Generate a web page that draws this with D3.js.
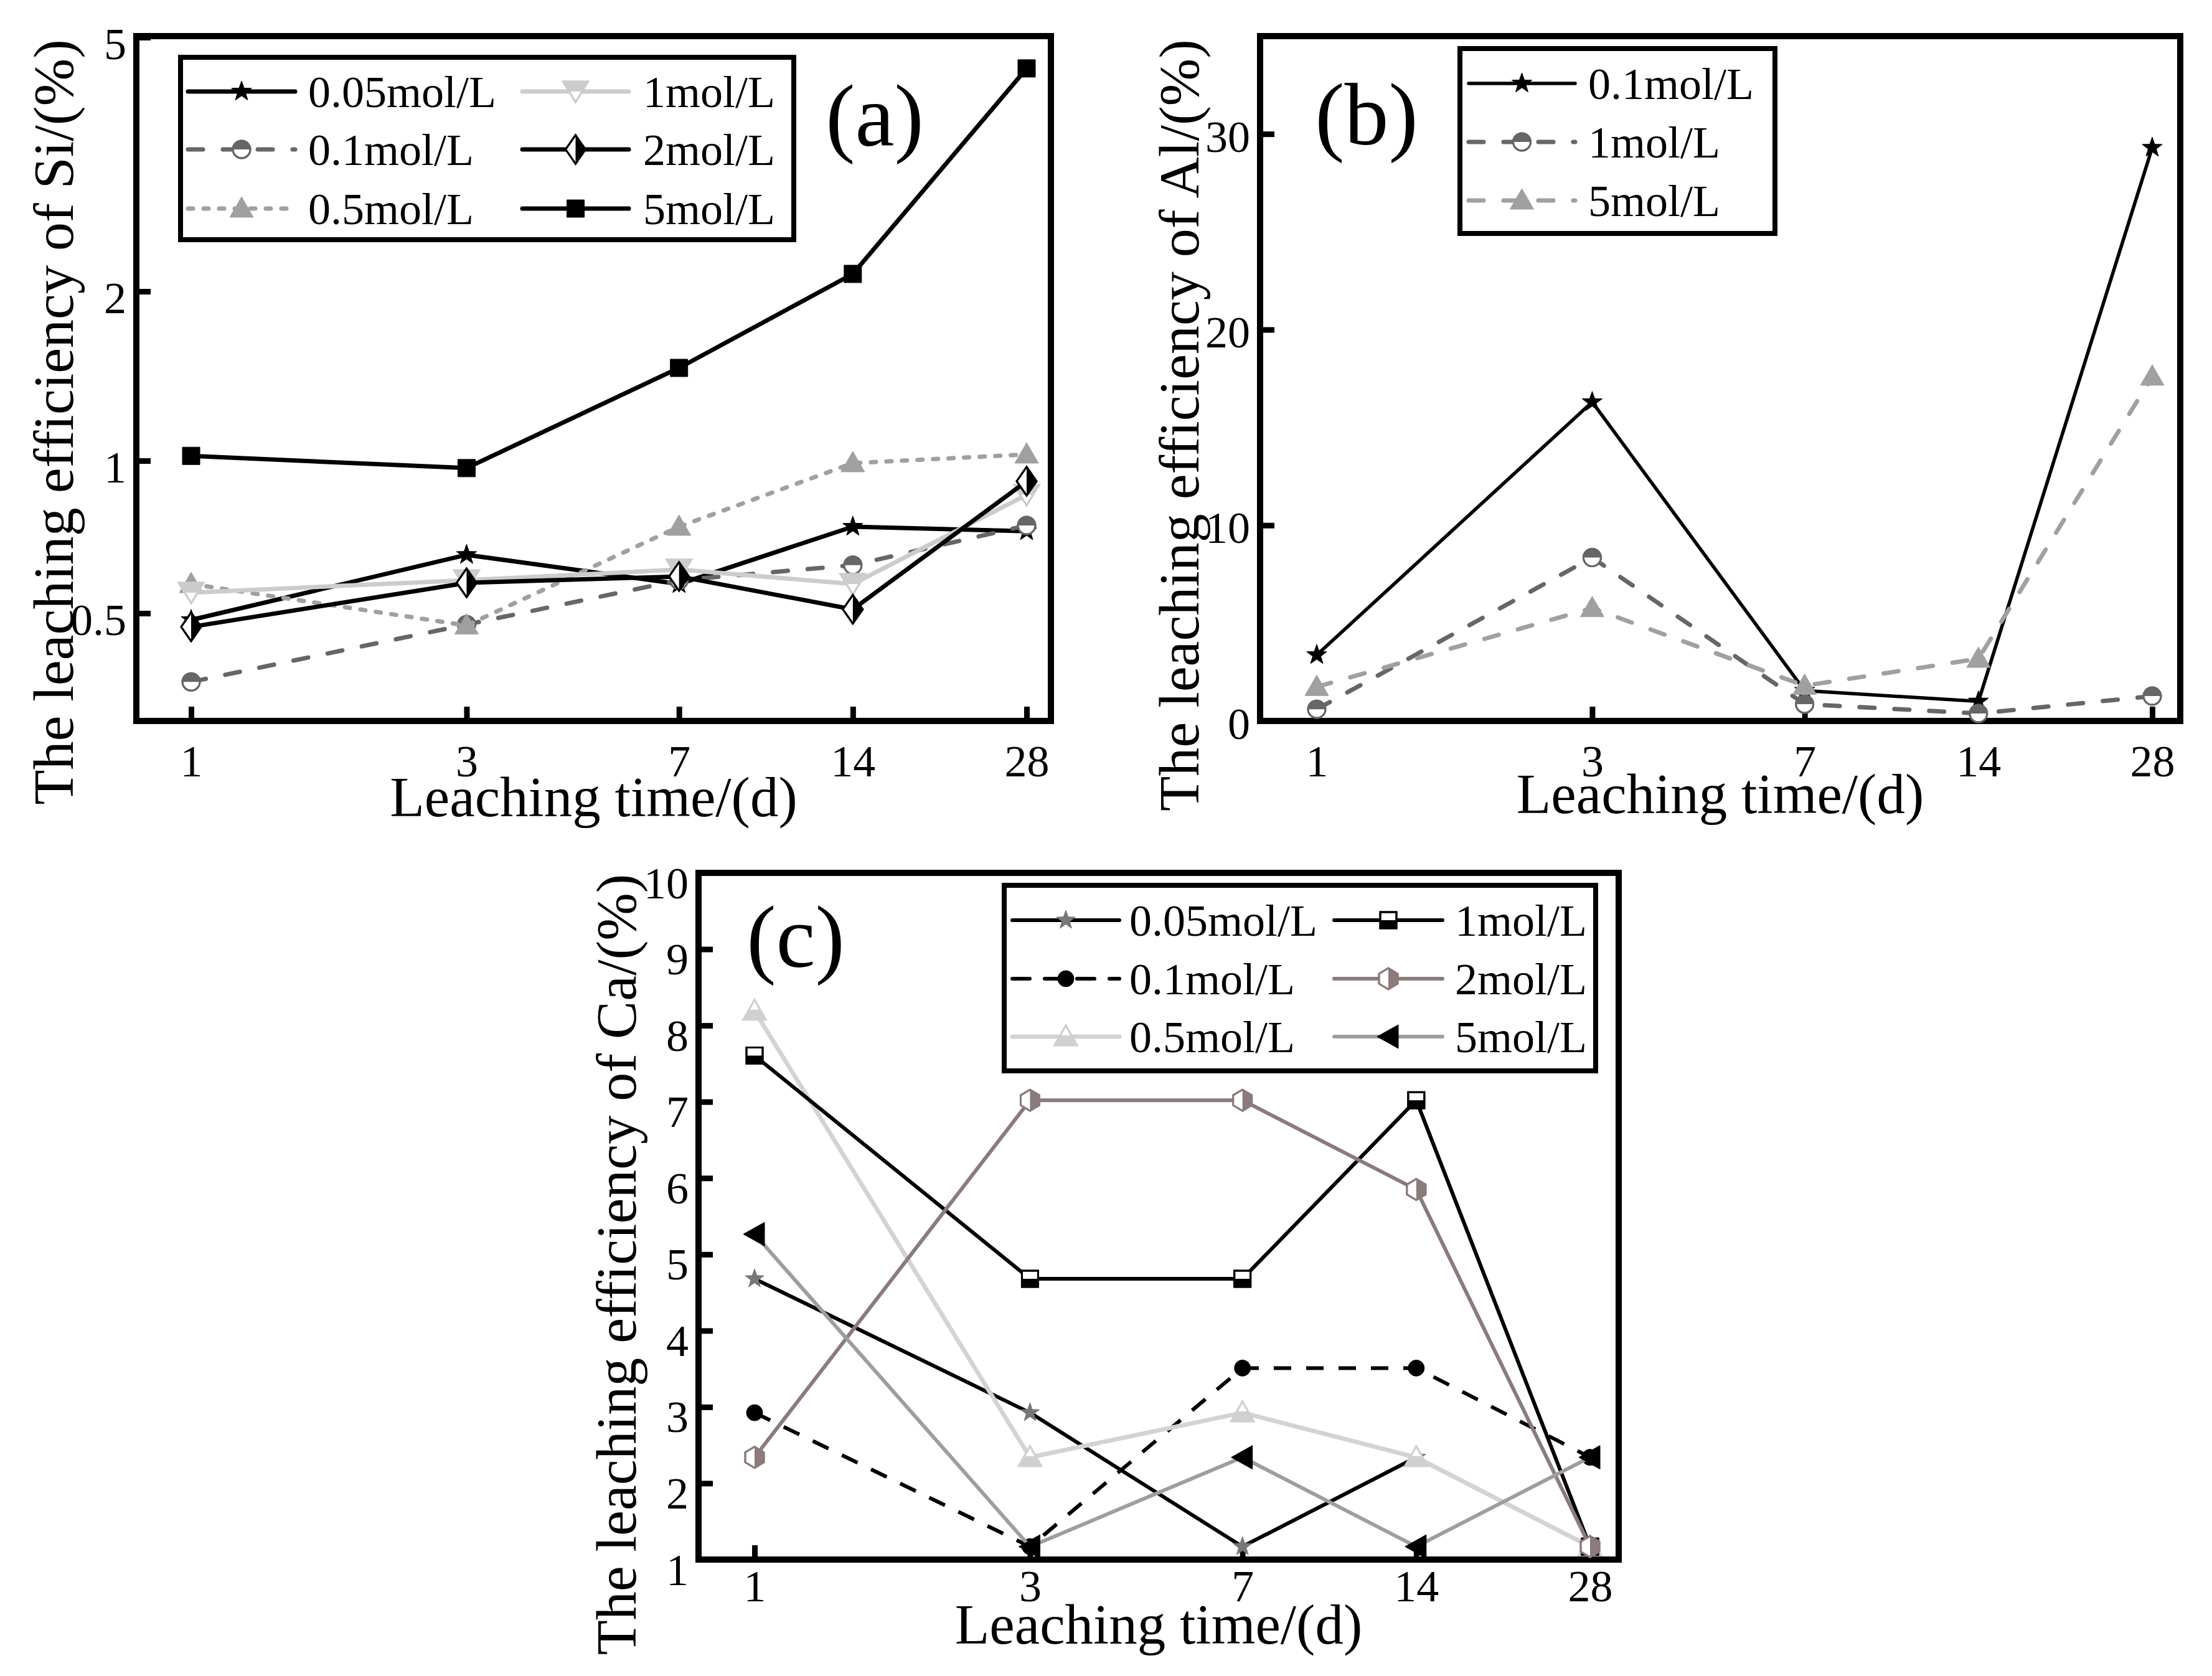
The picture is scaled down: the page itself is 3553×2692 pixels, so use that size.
<!DOCTYPE html>
<html><head><meta charset="utf-8">
<script src="https://cdn.jsdelivr.net/npm/d3@7"></script>
<style>
body{margin:0;background:#fff}
svg{display:block}
text{font-family:"Liberation Serif","Times New Roman",serif;fill:#000}
</style>
</head><body>
<svg id="c" width="3553" height="2692"></svg>
<script>
// ---------------- DATA ----------------
const days = [1, 3, 7, 14, 28];
const dayLabels = ["1", "3", "7", "14", "28"];

// (a) Si leaching efficiency (%)
const siNames = ["0.05mol/L", "0.1mol/L", "0.5mol/L", "1mol/L", "2mol/L", "5mol/L"];
const si005 = [0.485, 0.652, 0.571, 0.741, 0.726];
const si01  = [0.366, 0.475, 0.581, 0.622, 0.745];
const si05  = [0.571, 0.473, 0.741, 0.989, 1.026];
const si1   = [0.549, 0.581, 0.610, 0.571, 0.856];
const si2   = [0.470, 0.574, 0.591, 0.509, 0.911];
const si5   = [1.020, 0.967, 1.462, 2.13, 4.47];
const siTicks = [0.5, 1, 2, 5];
const siTickLabels = ["0.5", "1", "2", "5"];

// (b) Al leaching efficiency (%)
const alNames = ["0.1mol/L", "1mol/L", "5mol/L"];
const al01 = [3.37, 16.3, 1.55, 1.0, 29.3];
const al1  = [0.6, 8.35, 0.86, 0.38, 1.27];
const al5  = [1.74, 5.77, 1.8, 3.18, 17.6];
const alTicks = [0, 10, 20, 30];

// (c) Ca leaching efficiency (%)
const caNames = ["0.05mol/L", "0.1mol/L", "0.5mol/L", "1mol/L", "2mol/L", "5mol/L"];
const ca005 = [4.68, 2.925, 1.17, 2.34, 1.17];
const ca01  = [2.925, 1.17, 3.51, 3.51, 2.34];
const ca05  = [8.19, 2.34, 2.925, 2.34, 1.17];
const ca1   = [7.605, 4.68, 4.68, 7.02, 1.17];
const ca2   = [2.34, 7.02, 7.02, 5.85, 1.17];
const ca5   = [5.265, 1.17, 2.34, 1.17, 2.34];
const caTicks = [1, 2, 3, 4, 5, 6, 7, 8, 9, 10];

// ---------------- DRAWING ----------------
const svg = d3.select("#c");
svg.append("rect").attr("width", 3553).attr("height", 2692).attr("fill", "#fff");

const poly = pts => "M" + pts.map(p => p[0] + "," + p[1]).join("L") + "Z";
function starPts(R) {
  const pts = [];
  for (let k = 0; k < 10; k++) {
    const r = k % 2 ? R * 0.4 : R;
    const a = -Math.PI / 2 + k * Math.PI / 5;
    pts.push([r * Math.cos(a), r * Math.sin(a)]);
  }
  return pts;
}
const circPath = r => `M${-r},0A${r},${r} 0 1 1 ${r},0A${r},${r} 0 1 1 ${-r},0Z`;
const topHalfCirc = r => `M${-r},0A${r},${r} 0 0 1 ${r},0Z`;

const M = {
  starBlack: {full: poly(starPts(17)), fill: "#000", stroke: "#000", sw: 1},
  starGray: {full: poly(starPts(16)), fill: "#777", stroke: "#777", sw: 1},
  circHalf: {full: circPath(14), fill: "#fff", stroke: "#666", sw: 3, half: topHalfCirc(14), hfill: "#666"},
  triGray: {full: poly([[0,-19],[19,14],[-19,14]]), fill: "#a0a0a0", stroke: "#a0a0a0", sw: 1},
  triDownHalf: {full: poly([[-20,-16],[20,-16],[0,17]]), fill: "#fff", stroke: "#cccccc", sw: 3,
                half: poly([[-20,-16],[20,-16],[10,0],[-10,0]]), hfill: "#cccccc"},
  diamondHalf: {full: poly([[0,-23],[16,0],[0,23],[-16,0]]), fill: "#fff", stroke: "#000", sw: 3,
                half: poly([[0,-23],[16,0],[0,23]]), hfill: "#000"},
  squareBlack: {full: poly([[-14,-14],[14,-14],[14,14],[-14,14]]), fill: "#000", stroke: "#000", sw: 1},
  circBlack: {full: circPath(13), fill: "#000", stroke: "#000", sw: 1},
  triHalfLight: {full: poly([[0,-18],[18,14],[-18,14]]), fill: "#fff", stroke: "#d0d0d0", sw: 3,
                 half: poly([[-9,-2],[9,-2],[18,14],[-18,14]]), hfill: "#d0d0d0"},
  squareHalf: {full: poly([[-13,-13],[13,-13],[13,13],[-13,13]]), fill: "#fff", stroke: "#000", sw: 3,
               half: poly([[-13,0],[13,0],[13,13],[-13,13]]), hfill: "#000"},
  hexHalf: {full: poly([[0,-17],[15,-8],[15,8],[0,17],[-15,8],[-15,-8]]), fill: "#fff", stroke: "#8c7b7b", sw: 3,
            half: poly([[0,-17],[15,-8],[15,8],[0,17]]), hfill: "#8c7b7b"},
  triLeft: {full: poly([[-18,0],[16,-19],[16,19]]), fill: "#000", stroke: "#000", sw: 1}
};

function marker(g, m, cx, cy) {
  const t = g.append("g").attr("transform", `translate(${cx},${cy})`);
  t.append("path").attr("d", m.full).attr("fill", m.fill).attr("stroke", m.stroke)
    .attr("stroke-width", m.sw).attr("stroke-linejoin", "miter");
  if (m.half) t.append("path").attr("d", m.half).attr("fill", m.hfill).attr("stroke", "none");
  if (m.half) t.append("path").attr("d", m.full).attr("fill", "none").attr("stroke", m.stroke).attr("stroke-width", m.sw);
}

function styleLine(sel, st) {
  sel.attr("fill", "none").attr("stroke", st.color).attr("stroke-width", st.w)
    .attr("stroke-linejoin", "round").attr("stroke-linecap", st.cap || "butt");
  if (st.dash) sel.attr("stroke-dasharray", st.dash);
  return sel;
}

function panel(cfg) {
  const g = svg.append("g");
  const x = d3.scaleLog().domain([1, 28]).range([cfg.x0, cfg.x0 + 1342]);
  const y = cfg.y;

  // frame
  g.append("rect").attr("x", cfg.L).attr("y", cfg.T).attr("width", cfg.R - cfg.L)
    .attr("height", cfg.B - cfg.T).attr("fill", "none").attr("stroke", "#000").attr("stroke-width", 10);

  // x axis
  const xa = g.append("g").attr("transform", `translate(0,${cfg.B})`)
    .call(d3.axisBottom(x).tickValues(days).tickFormat((d, i) => dayLabels[i])
      .tickSize(-23).tickPadding(cfg.xpad));
  xa.select(".domain").remove();
  xa.selectAll("line").attr("stroke", "#000").attr("stroke-width", 9);
  xa.selectAll("text").attr("font-size", 72).attr("font-family", "Liberation Serif").attr("fill", "#000");

  // y axis
  const ya = g.append("g").attr("transform", `translate(${cfg.L},0)`)
    .call(d3.axisLeft(y).tickValues(cfg.ticks).tickFormat((d, i) => cfg.tickLabels[i])
      .tickSize(-23).tickPadding(16));
  ya.select(".domain").remove();
  ya.selectAll("line").attr("stroke", "#000").attr("stroke-width", 9);
  ya.selectAll("text").attr("font-size", 72).attr("font-family", "Liberation Serif")
    .attr("fill", "#000").attr("y", cfg.yoff);

  // series
  const line = d3.line().x((d, i) => x(days[i])).y(d => y(d));
  cfg.series.forEach(s => {
    styleLine(g.append("path").attr("d", line(s.values)), s.line);
    s.values.forEach((v, i) => marker(g, M[s.marker], x(days[i]), y(v)));
  });

  // legend
  const lg = cfg.legend;
  g.append("rect").attr("x", lg.x).attr("y", lg.y).attr("width", lg.w).attr("height", lg.h)
    .attr("fill", "#fff").attr("stroke", "#000").attr("stroke-width", 8);
  cfg.series.forEach((s, k) => {
    const col = Math.floor(k / lg.rows.length), row = k % lg.rows.length;
    const c = lg.cols[col], yy = lg.rows[row];
    styleLine(g.append("path").attr("d", `M${c.l0},${yy}L${c.l1},${yy}`), Object.assign({}, s.line, {cap: "round"}));
    marker(g, M[s.marker], (c.l0 + c.l1) / 2, yy);
    g.append("text").attr("x", c.tx).attr("y", yy + 25).attr("font-size", 72).text(s.name);
  });

  // panel label
  g.append("text").attr("x", cfg.tag.x).attr("y", cfg.tag.y).attr("font-size", 142)
    .attr("text-anchor", "middle").text(cfg.tag.t);

  // axis titles
  g.append("text").attr("transform", `translate(${cfg.yt.x},${cfg.yt.y}) rotate(-90)`)
    .attr("text-anchor", "middle").attr("dominant-baseline", "central").attr("font-size", 92).text(cfg.yt.t);
  g.append("text").attr("x", (cfg.L + cfg.R) / 2).attr("y", cfg.xtY).attr("text-anchor", "middle")
    .attr("font-size", 91).text("Leaching time/(d)");
}

// (a)
panel({
  L: 219, R: 1688, T: 58, B: 1158, x0: 307, xpad: 38, yoff: 11,
  y: d3.scaleLog().domain(siTicks).range([985, 740, 468, 60]),
  ticks: siTicks, tickLabels: siTickLabels,
  series: [
    {name: siNames[0], values: si005, marker: "starBlack", line: {color: "#000", w: 7}},
    {name: siNames[1], values: si01, marker: "circHalf", line: {color: "#666", w: 7, dash: "24,32", cap: "round"}},
    {name: siNames[2], values: si05, marker: "triGray", line: {color: "#a0a0a0", w: 7, dash: "8,17", cap: "round"}},
    {name: siNames[3], values: si1, marker: "triDownHalf", line: {color: "#cccccc", w: 7}},
    {name: siNames[4], values: si2, marker: "diamondHalf", line: {color: "#000", w: 7}},
    {name: siNames[5], values: si5, marker: "squareBlack", line: {color: "#000", w: 7}}
  ],
  legend: {x: 290, y: 92, w: 985, h: 293, rows: [147, 240, 335],
           cols: [{l0: 302, l1: 474, tx: 495}, {l0: 839, l1: 1010, tx: 1033}]},
  tag: {x: 1405, y: 234, t: "(a)"},
  yt: {x: 86, y: 678, t: "The leaching efficiency of Si/(%)"},
  xtY: 1311
});

// (b)
panel({
  L: 2024, R: 3502, T: 58, B: 1158, x0: 2115, xpad: 38, yoff: 5,
  y: d3.scaleLinear().domain([0, 35]).range([1158, 58]),
  ticks: alTicks, tickLabels: alTicks.map(String),
  series: [
    {name: alNames[0], values: al01, marker: "starBlack", line: {color: "#000", w: 5.5}},
    {name: alNames[1], values: al1, marker: "circHalf", line: {color: "#666", w: 7, dash: "24,32", cap: "round"}},
    {name: alNames[2], values: al5, marker: "triGray", line: {color: "#a0a0a0", w: 7, dash: "24,32", cap: "round"}}
  ],
  legend: {x: 2345, y: 78, w: 506, h: 297, rows: [134, 228, 322],
           cols: [{l0: 2359, l1: 2530, tx: 2551}]},
  tag: {x: 2195, y: 232, t: "(b)"},
  yt: {x: 1894, y: 683, t: "The leaching efficiency of Al/(%)"},
  xtY: 1306
});

// (c)
panel({
  L: 1122, R: 2600, T: 1402, B: 2505, x0: 1212, xpad: 16, yoff: 17,
  y: d3.scaleLinear().domain([1, 10]).range([2505, 1402]),
  ticks: caTicks, tickLabels: caTicks.map(String),
  series: [
    {name: caNames[0], values: ca005, marker: "starGray", line: {color: "#000", w: 6}},
    {name: caNames[1], values: ca01, marker: "circBlack", line: {color: "#000", w: 6, dash: "28,24"}},
    {name: caNames[2], values: ca05, marker: "triHalfLight", line: {color: "#d3d3d3", w: 7}},
    {name: caNames[3], values: ca1, marker: "squareHalf", line: {color: "#000", w: 6}},
    {name: caNames[4], values: ca2, marker: "hexHalf", line: {color: "#8c7b7b", w: 6}},
    {name: caNames[5], values: ca5, marker: "triLeft", line: {color: "#9e9e9e", w: 6}}
  ],
  legend: {x: 1613, y: 1422, w: 950, h: 298, rows: [1478, 1572, 1665],
           cols: [{l0: 1626, l1: 1798, tx: 1814}, {l0: 2143, l1: 2317, tx: 2337}]},
  tag: {x: 1278, y: 1553, t: "(c)"},
  yt: {x: 990, y: 2031, t: "The leaching efficiency of Ca/(%)"},
  xtY: 2640
});
</script>
</body></html>
